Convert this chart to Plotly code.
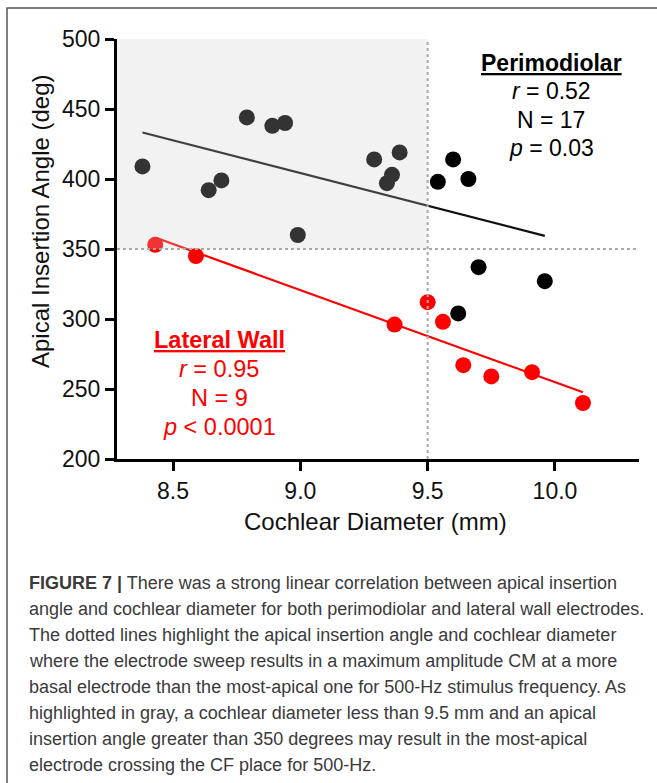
import numpy as np
import plotly.graph_objects as go

# Perimodiolar electrodes (black)
peri_diam = [8.38, 8.64, 8.69, 8.79, 8.89, 8.94, 8.99, 9.29, 9.34, 9.36, 9.39, 9.54, 9.60, 9.66, 9.70, 9.62, 9.96]
peri_angle = [409, 392, 399, 444, 438, 440, 360, 414, 397, 403, 419, 398, 414, 400, 337, 304, 327]
# Lateral wall electrodes (red)
lat_diam = [8.43, 8.59, 9.37, 9.50, 9.56, 9.64, 9.75, 9.91, 10.11]
lat_angle = [353, 345, 296, 312, 298, 267, 259, 262, 240]

x_ticks = [8.5, 9.0, 9.5, 10.0]
x_ticklabels = ["8.5", "9.0", "9.5", "10.0"]
y_ticks = [200, 250, 300, 350, 400, 450, 500]
x_cut = 9.5
y_cut = 350
x_range = [8.28, 10.33]
y_range = [200, 500]

peri_lines = ["<b><span style='text-decoration:underline'>Perimodiolar</span></b>",
              "<i>r</i> = 0.52", "N = 17", "<i>p</i> = 0.03"]
lat_lines = ["<b><span style='text-decoration:underline'>Lateral Wall</span></b>",
             "<i>r</i> = 0.95", "N = 9", "<i>p</i> &lt; 0.0001"]

caption_lines = [
    "<b>FIGURE 7 |</b> There was a strong linear correlation between apical insertion",
    "angle and cochlear diameter for both perimodiolar and lateral wall electrodes.",
    "The dotted lines highlight the apical insertion angle and cochlear diameter",
    "where the electrode sweep results in a maximum amplitude CM at a more",
    "basal electrode than the most-apical one for 500-Hz stimulus frequency. As",
    "highlighted in gray, a cochlear diameter less than 9.5 mm and an apical",
    "insertion angle greater than 350 degrees may result in the most-apical",
    "electrode crossing the CF place for 500-Hz.",
]

W, H = 657, 783
L, R, T, B = 117, 18, 39, 324
PW, PH = W - L - R, H - T - B
def px(x):
    return (x - L) / PW
def py(y):
    return (H - B - y) / PH

FONT = "Liberation Sans, Arial, sans-serif"

fig = go.Figure()

def fit_line(xs, ys):
    m, c = np.polyfit(xs, ys, 1)
    xx = np.array([min(xs), max(xs)])
    return xx, m * xx + c

fx, fy = fit_line(peri_diam, peri_angle)
fig.add_trace(go.Scatter(x=fx, y=fy, mode="lines", line=dict(color="#111111", width=2.2), hoverinfo="skip"))
fx, fy = fit_line(lat_diam, lat_angle)
fig.add_trace(go.Scatter(x=fx, y=fy, mode="lines", line=dict(color="#ff0000", width=2.2), hoverinfo="skip"))

fig.add_trace(go.Scatter(x=peri_diam, y=peri_angle, mode="markers",
                         marker=dict(color="#000000", size=16, line=dict(width=0)), name="Perimodiolar"))
fig.add_trace(go.Scatter(x=lat_diam, y=lat_angle, mode="markers",
                         marker=dict(color="#ff0000", size=16, line=dict(width=0)), name="Lateral Wall"))

# gray highlight (drawn above, translucent)
fig.add_shape(type="rect", xref="x", yref="y", x0=x_range[0], x1=x_cut, y0=y_cut, y1=y_range[1],
              fillcolor="rgba(203,203,203,0.25)", line=dict(width=0), layer="above")
fig.add_shape(type="line", xref="x", yref="y", x0=x_cut, x1=x_cut, y0=y_range[0], y1=y_range[1],
              line=dict(color="#aaaaaa", width=2, dash="dot"))
fig.add_shape(type="line", xref="x", yref="y", x0=x_range[0], x1=x_range[1], y0=y_cut, y1=y_cut,
              line=dict(color="#aaaaaa", width=2, dash="dot"))

# outer frame
fig.add_shape(type="rect", xref="paper", yref="paper", x0=px(7), x1=px(W + 20), y0=py(H + 20), y1=py(8),
              line=dict(color="#555555", width=1.5), fillcolor="rgba(0,0,0,0)", layer="above")

ann = []
for i, t in enumerate(peri_lines):
    ann.append(dict(x=px(551), y=py(63 + 28.3 * i), xref="paper", yref="paper", showarrow=False,
                    xanchor="center", yanchor="middle",
                    font=dict(family=FONT, size=23, color="#000000"), text=t))
for i, t in enumerate(lat_lines):
    ann.append(dict(x=px(219), y=py(340 + 29 * i), xref="paper", yref="paper", showarrow=False,
                    xanchor="center", yanchor="middle",
                    font=dict(family=FONT, size=23.5, color="#ff0000"), text=t))
ann.append(dict(x=px(40), y=py(221), xref="paper", yref="paper", showarrow=False, xanchor="center", yanchor="middle",
                textangle=-90, font=dict(family=FONT, size=24, color="#111111"), text="Apical Insertion Angle (deg)"))
ann.append(dict(x=px(375), y=py(521), xref="paper", yref="paper", showarrow=False, xanchor="center", yanchor="middle",
                font=dict(family=FONT, size=24, color="#111111"), text="Cochlear Diameter (mm)"))
for i, line in enumerate(caption_lines):
    ann.append(dict(x=px(27), y=py(583 + 26 * i), xref="paper", yref="paper", showarrow=False,
                    xanchor="left", yanchor="middle", align="left",
                    font=dict(family=FONT, size=18, color="#3a3a3a"), text=line))

fig.update_layout(
    width=W, height=H,
    margin=dict(l=L, r=R, t=T, b=B, pad=0),
    paper_bgcolor="white", plot_bgcolor="white",
    showlegend=False,
    annotations=ann,
    font=dict(family=FONT, color="#111111"),
)
fig.update_xaxes(range=x_range, tickvals=x_ticks, ticktext=x_ticklabels, showgrid=False, zeroline=False,
                 showline=True, linecolor="#000000", linewidth=3, ticks="outside", ticklen=9, tickwidth=3,
                 tickcolor="#000000", tickfont=dict(family=FONT, size=23, color="#111111"))
fig.update_yaxes(range=y_range, tickvals=y_ticks, showgrid=False, zeroline=False,
                 showline=True, linecolor="#000000", linewidth=3, ticks="outside", ticklen=9, tickwidth=3,
                 tickcolor="#000000", tickfont=dict(family=FONT, size=23, color="#111111"))

fig.write_html("out.html", config={"displayModeBar": False},
               post_script="document.body.style.margin='0';document.body.style.overflow='hidden';")
